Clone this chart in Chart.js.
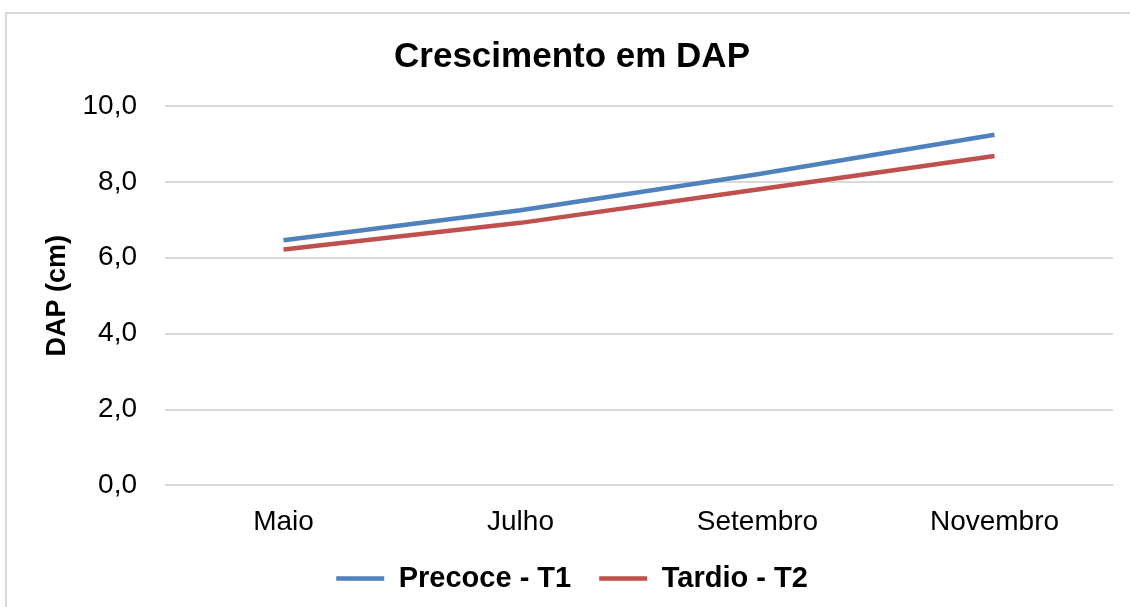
<!DOCTYPE html>
<html>
<head>
<meta charset="utf-8">
<script src="https://cdn.jsdelivr.net/npm/chart.js@4"></script>
<style>
  html, body { margin: 0; padding: 0; background: #fff; }
  #wrap { position: relative; width: 1130px; height: 607px; overflow: hidden; }
  #frame { position: absolute; left: 5px; top: 12px; width: 1200px; height: 700px; border: 2px solid #d9d9d9; box-sizing: border-box; }
  canvas { position: absolute; left: 0; top: 0; }
</style>
</head>
<body>
<div id="wrap">
  <div id="frame"></div>
  <canvas id="chart" width="1130" height="607"></canvas>
</div>
<script>
  const months = ["Maio", "Julho", "Setembro", "Novembro"];
  const precoce = [6.46, 7.25, 8.2, 9.24];
  const tardio = [6.22, 6.92, 7.8, 8.68];
  const yTicks = [0, 2, 4, 6, 8, 10];

  const font = "'Liberation Sans', Arial, sans-serif";

  new Chart(document.getElementById("chart"), {
    type: "line",
    data: {
      labels: months,
      datasets: [
        { label: "Precoce - T1", data: precoce, borderColor: "#4F81BD", backgroundColor: "#4F81BD", borderWidth: 4.5, pointRadius: 0, tension: 0 },
        { label: "Tardio - T2", data: tardio, borderColor: "#C0504D", backgroundColor: "#C0504D", borderWidth: 4.5, pointRadius: 0, tension: 0 },
      ],
    },
    options: {
      responsive: false,
      animation: false,
      // left padding shifts title + legend centre to match the frame
      layout: { padding: { left: 31, right: 17, top: 0, bottom: 4 } },
      plugins: {
        title: { display: true, text: "Crescimento em DAP", color: "#000", font: { family: font, size: 35, weight: "bold" }, padding: { top: 36, bottom: 28 } },
        legend: {
          position: "bottom",
          labels: { color: "#000", font: { family: font, size: 29, weight: "bold" }, usePointStyle: true, pointStyle: "line", pointStyleWidth: 48, boxHeight: 4, padding: 28 },
        },
        tooltip: { enabled: false },
      },
      scales: {
        x: {
          offset: true,
          afterFit: (s) => { s.height = 50.6; },
          grid: { display: false, drawTicks: false },
          border: { display: false },
          ticks: { color: "#000", font: { family: font, size: 28 }, padding: 20 },
        },
        y: {
          min: 0, max: 10,
          afterBuildTicks: (s) => { s.ticks = yTicks.map((v) => ({ value: v })); },
          afterFit: (s) => { s.width = 134; },
          grid: { color: "#d9d9d9", lineWidth: 2, drawTicks: false },
          border: { display: false },
          ticks: { color: "#000", font: { family: font, size: 28 }, padding: 28, callback: (v) => v.toFixed(1).replace(".", ",") },
          title: { display: true, text: "DAP (cm)", color: "#000", font: { family: font, size: 27, weight: "bold" }, padding: { top: 10, bottom: 0 } },
        },
      },
    },
  });
</script>
</body>
</html>
